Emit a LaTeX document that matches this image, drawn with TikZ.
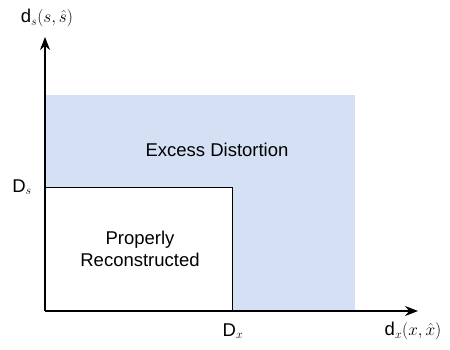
\documentclass[tikz,border=0pt]{standalone}
\usepackage{amsmath}
\usepackage{amssymb}
\usepackage{xcolor}
\usepackage{fontspec}
\setmainfont{Liberation Sans}
\usepackage{tikz}
\usetikzlibrary{arrows.meta}

\definecolor{excessblue}{HTML}{D4E1F5}
\tikzset{
  axis/.style={line width=1.3pt, -{Stealth[length=13pt,width=10pt]}},
  region/.style={align=center}
}

\begin{document}
\begin{tikzpicture}[x=1pt,y=1pt,font=\fontsize{18.5}{22}\selectfont]
\useasboundingbox (0,0) rectangle (450,350);

% Add regions
\fill [excessblue] (45,39) rectangle (355,255);
\draw [line width=1pt, fill=white] (45,39) rectangle (232,162);

\node (excess) [region] at (217,200) {Excess Distortion};
\node (proper) [region] at (140,101) {Properly\\Reconstructed};

% Axes
\coordinate (origin) at (45,39);
\coordinate (xend) at (418,39);
\coordinate (yend) at (45,313);
\draw [axis] (origin) -- (xend);
\draw [axis] (origin) -- (yend);

\node (ylabel) at (47,332) {d$_s(s,\hat{s})$};
\node (xlabel) at (413,19) {d$_x(x,\hat{x})$};
\node (ds) at (22,163) {D$_s$};
\node (dx) at (233,19) {D$_x$};
\end{tikzpicture}
\end{document}
